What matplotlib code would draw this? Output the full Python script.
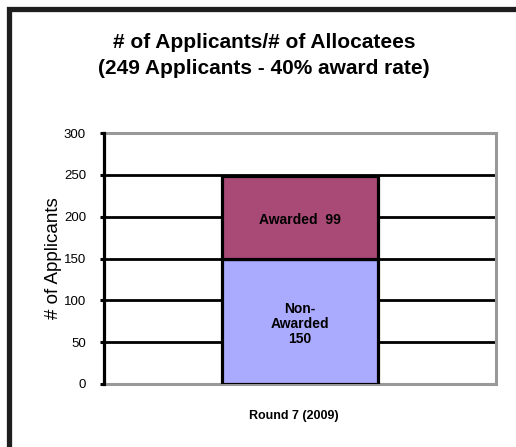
import matplotlib
matplotlib.use("Agg")
import matplotlib.pyplot as plt
from matplotlib.lines import Line2D
from matplotlib.transforms import ScaledTranslation

plt.rcParams['font.family'] = ['Liberation Sans', 'DejaVu Sans']

categories = ["Round 7 (2009)"]
non_awarded = [150]
awarded = [99]
yticks = [0, 50, 100, 150, 200, 250, 300]
title_lines = ["# of Applicants/# of Allocatees", "(249 Applicants - 40% award rate)"]
ylabel = "# of Applicants"

W, H = 516, 447
fig = plt.figure(figsize=(W / 100, H / 100), dpi=100)
fig.patch.set_facecolor('white')

# outer frame (left and top thick dark lines)
lx = 8.5 / W
ty = 1 - 8.5 / H
fig.add_artist(Line2D([lx, lx, 1.0], [0.0, ty, ty], transform=fig.transFigure,
                      color='#1e1e1e', linewidth=3.8, solid_joinstyle='miter'))

ax = fig.add_axes([104 / W, (H - 384) / H, (496 - 104) / W, (384 - 133) / H])

x = list(range(len(categories)))
ax.set_xlim(-0.5, 0.5)
ax.set_ylim(yticks[0], yticks[-1])

for yv in yticks[1:-1]:
    ax.axhline(yv, color='black', linewidth=2.0, zorder=1)

ax.bar(x, non_awarded, width=0.40, color='#AAAAFF', edgecolor='black',
       linewidth=2.3, zorder=3)
ax.bar(x, awarded, bottom=non_awarded, width=0.40, color='#A84A75',
       edgecolor='black', linewidth=2.3, zorder=3)

for xi, n, a in zip(x, non_awarded, awarded):
    ax.text(xi, n / 2 - 3, f"Non-\nAwarded\n{n}", ha='center', va='center',
            fontsize=10, fontweight='bold', linespacing=1.1, zorder=4)
    ax.text(xi, n + a / 2 - 3, f"Awarded  {a}", ha='center', va='center',
            fontsize=10, fontweight='bold', zorder=4)

ax.set_yticks(yticks)
ax.set_yticklabels([str(v) for v in yticks], fontsize=9.5)
ax.set_xticks(x)
ax.set_xticklabels(categories, fontsize=9, fontweight='bold')
ax.tick_params(axis='x', length=0, pad=19)
ax.tick_params(axis='y', direction='out', length=3, width=2.2, color='black', pad=10)
for lab in ax.get_xticklabels():
    lab.set_transform(lab.get_transform() + ScaledTranslation(-6 / 100, 0, fig.dpi_scale_trans))

for s in ['top', 'right', 'bottom']:
    ax.spines[s].set_color('#999999')
    ax.spines[s].set_linewidth(2.2)
ax.spines['left'].set_color('black')
ax.spines['left'].set_linewidth(2.3)
ax.spines['left'].set_zorder(5)

ax.set_ylabel(ylabel, fontsize=13.5)
ax.yaxis.set_label_coords(-0.107, 0.5)

fig.text(264 / W, 1 - 42 / H, title_lines[0], ha='center', va='center',
         fontsize=15, fontweight='bold')
fig.text(264 / W, 1 - 69 / H, title_lines[1], ha='center', va='center',
         fontsize=15, fontweight='bold')

fig.savefig("out.png", dpi=100)
